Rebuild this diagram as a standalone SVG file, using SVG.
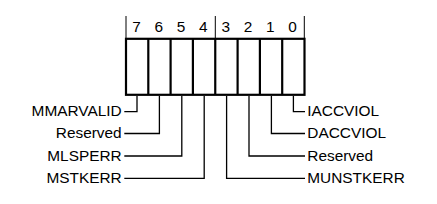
<svg xmlns="http://www.w3.org/2000/svg" width="437" height="204" viewBox="0 0 437 204">
<style>
  text { font-family: "Liberation Sans", Arial, sans-serif; font-size: 15.4px; fill: #000; }
  .num { text-anchor: middle; }
  .lbl-l { text-anchor: end; }
  .lbl-r { text-anchor: start; }
  .hdr { stroke: #000; stroke-width: 1; fill: none; }
  .box { stroke: #000; stroke-width: 2.2; fill: #fff; }
  .conn { stroke: #000; stroke-width: 1.3; fill: none; }
</style>
<rect width="437" height="204" fill="#fff"/>
<g id="header">
  <line class="hdr" x1="126" y1="16" x2="126" y2="39"/>
  <line class="hdr" x1="215.3" y1="16" x2="215.3" y2="39"/>
  <line class="hdr" x1="304.3" y1="16" x2="304.3" y2="39"/>
  <text class="num" x="136.5" y="31.7">7</text>
  <text class="num" x="158.8" y="31.7">6</text>
  <text class="num" x="181.1" y="31.7">5</text>
  <text class="num" x="203.4" y="31.7">4</text>
  <text class="num" x="225.7" y="31.7">3</text>
  <text class="num" x="248" y="31.7">2</text>
  <text class="num" x="270.3" y="31.7">1</text>
  <text class="num" x="292.6" y="31.7">0</text>
</g>
<g id="register">
  <rect class="box" x="126" y="38.8" width="178.5" height="56"/>
  <line class="box" x1="148.3" y1="38.8" x2="148.3" y2="94.8"/>
  <line class="box" x1="170.6" y1="38.8" x2="170.6" y2="94.8"/>
  <line class="box" x1="192.9" y1="38.8" x2="192.9" y2="94.8"/>
  <line class="box" x1="215.25" y1="38.8" x2="215.25" y2="94.8"/>
  <line class="box" x1="237.6" y1="38.8" x2="237.6" y2="94.8"/>
  <line class="box" x1="259.9" y1="38.8" x2="259.9" y2="94.8"/>
  <line class="box" x1="282.2" y1="38.8" x2="282.2" y2="94.8"/>
</g>
<g id="connectors">
  <polyline class="conn" points="137,95.9 137,111.7 124.3,111.7"/>
  <polyline class="conn" points="159.4,95.9 159.4,133.5 124.3,133.5"/>
  <polyline class="conn" points="181.8,95.9 181.8,156 124.3,156"/>
  <polyline class="conn" points="204.2,95.9 204.2,178.3 124.3,178.3"/>
  <polyline class="conn" points="226.6,95.9 226.6,178.3 305,178.3"/>
  <polyline class="conn" points="249,95.9 249,156 305,156"/>
  <polyline class="conn" points="271.4,95.9 271.4,133.5 305,133.5"/>
  <polyline class="conn" points="293.4,95.9 293.4,111.7 305,111.7"/>
</g>
<g id="label-mmarvalid"><text class="lbl-l" x="121.7" y="116.3">MMARVALID</text></g>
<g id="label-reserved-6"><text class="lbl-l" x="121.7" y="138.3">Reserved</text></g>
<g id="label-mlsperr"><text class="lbl-l" x="121.7" y="160.8">MLSPERR</text></g>
<g id="label-mstkerr"><text class="lbl-l" x="121.7" y="183.1">MSTKERR</text></g>
<g id="label-iaccviol"><text class="lbl-r" x="307.3" y="116.3">IACCVIOL</text></g>
<g id="label-daccviol"><text class="lbl-r" x="307.3" y="138.3">DACCVIOL</text></g>
<g id="label-reserved-2"><text class="lbl-r" x="307.3" y="160.8">Reserved</text></g>
<g id="label-munstkerr"><text class="lbl-r" x="307.3" y="183.1">MUNSTKERR</text></g>
</svg>
